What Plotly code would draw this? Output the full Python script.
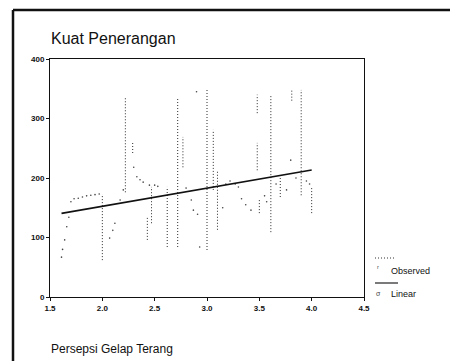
import plotly.graph_objects as go
import numpy as np

# Observed values: dense runs of observations at one x value (x, lowest y, highest y)
run_x  = [2.00, 2.22, 2.29, 2.43, 2.47, 2.62, 2.72, 2.77, 3.00, 3.06, 3.10, 3.48, 3.48, 3.50, 3.61, 3.70, 3.81, 3.90, 4.00]
run_lo = [62,   176,  242,  96,   124,  84,   84,   218,  79,   180,  113,  213,  309,  141,  109,  168,  330,  171,  141]
run_hi = [173,  336,  259,  134,  185,  185,  336,  269,  350,  281,  213,  259,  340,  163,  340,  202,  348,  348,  185]

# Observed values: isolated observations
pt_x = [1.61, 1.62, 1.64, 1.66, 1.68, 1.70, 1.73, 1.77, 1.81, 1.85, 1.89, 1.93, 1.97,
        2.07, 2.10, 2.12, 2.17, 2.20, 2.30, 2.33, 2.36, 2.39, 2.45, 2.50, 2.53,
        2.80, 2.85, 2.87, 2.91, 2.93, 2.90, 3.15, 3.18, 3.22, 3.27, 3.30, 3.33,
        3.37, 3.42, 3.55, 3.57, 3.66, 3.76, 3.80, 3.85, 3.95, 3.98]
pt_y = [67,   80,   96,   118,  134,  160,  165,  166,  168,  170,  171,  172,  173,
        99,   112,  124,  163,  180,  218,  202,  197,  193,  188,  188,  186,
        183,  163,  146,  139,  84,   345,  150,  190,  195,  190,  185,  165,
        155,  146,  170,  160,  190,  180,  230,  200,  195,  190]

# Linear fit coefficients
fit_b0 = 91.5
fit_b1 = 30.5

x_ticks = [1.5, 2.0, 2.5, 3.0, 3.5, 4.0, 4.5]
x_tick_labels = ["1.5", "2.0", "2.5", "3.0", "3.5", "4.0", "4.5"]
y_ticks = [0, 100, 200, 300, 400]
y_tick_labels = ["0", "100", "200", "300", "400"]

title_text = "Kuat Penerangan"
x_title = "Persepsi Gelap Terang"
legend_names = ["Observed", "Linear"]

all_x = pt_x + run_x
fit_x = np.array([min(all_x), max(all_x)])
fit_y = fit_b0 + fit_b1 * fit_x

seg_x, seg_y = [], []
for x, lo, hi in zip(run_x, run_lo, run_hi):
    seg_x += [x, x, None]
    seg_y += [lo, hi, None]

FONT = "Liberation Sans, Arial, sans-serif"
OFF = 8  # page body margin
W, H = 450, 353
L, R, T, B = 42, 94, 51, 64
pw, ph = W - L - R, H - T - B


def px(xr):
    return (xr - OFF - L) / pw


def py(yr):
    return (H - B - (yr - OFF)) / ph


fig = go.Figure()
fig.add_trace(go.Scatter(x=seg_x, y=seg_y, mode="lines",
                         line=dict(color="#2a2a2a", width=1, dash="1px,2px"),
                         name=legend_names[0], showlegend=False))
fig.add_trace(go.Scatter(x=pt_x, y=pt_y, mode="markers",
                         marker=dict(color="#444", size=1.6, line=dict(width=0)),
                         name=legend_names[0], showlegend=False))
fig.add_trace(go.Scatter(x=fit_x, y=fit_y, mode="lines",
                         line=dict(color="#111", width=1.6),
                         name=legend_names[1], showlegend=False))

shapes = [
    # outer frame (left and top edges visible)
    dict(type="line", xref="paper", yref="paper", x0=px(13), x1=px(13), y0=py(10), y1=py(361),
         line=dict(color="#111", width=2.5)),
    dict(type="line", xref="paper", yref="paper", x0=px(13), x1=px(458), y0=py(10), y1=py(10),
         line=dict(color="#111", width=2.5)),
    # legend samples
    dict(type="line", xref="paper", yref="paper", x0=px(375), x1=px(396), y0=py(258), y1=py(258),
         line=dict(color="#333", width=1, dash="1px,2px")),
    dict(type="line", xref="paper", yref="paper", x0=px(375), x1=px(398), y0=py(283), y1=py(283),
         line=dict(color="#222", width=1.2)),
]

annotations = [
    dict(text=title_text, xref="paper", yref="paper", x=px(49), y=py(38), xanchor="left", yanchor="middle",
         showarrow=False, font=dict(family=FONT, size=16, color="#111")),
    dict(text=x_title, xref="paper", yref="paper", x=px(49), y=py(349), xanchor="left", yanchor="middle",
         showarrow=False, font=dict(family=FONT, size=12, color="#111")),
    dict(text="ʳ", xref="paper", yref="paper", x=px(378), y=py(268), xanchor="center", yanchor="middle",
         showarrow=False, font=dict(family=FONT, size=8, color="#444")),
    dict(text=legend_names[0], xref="paper", yref="paper", x=px(389), y=py(271), xanchor="left", yanchor="middle",
         showarrow=False, font=dict(family=FONT, size=9, color="#111")),
    dict(text="σ", xref="paper", yref="paper", x=px(378), y=py(293), xanchor="center", yanchor="middle",
         showarrow=False, font=dict(family=FONT, size=7, color="#444")),
    dict(text=legend_names[1], xref="paper", yref="paper", x=px(389), y=py(294), xanchor="left", yanchor="middle",
         showarrow=False, font=dict(family=FONT, size=9, color="#111")),
]

fig.update_layout(
    width=W, height=H,
    margin=dict(l=L, r=R, t=T, b=B, pad=0),
    paper_bgcolor="white", plot_bgcolor="white",
    shapes=shapes, annotations=annotations,
    showlegend=False,
    xaxis=dict(range=[1.5, 4.5], tickvals=x_ticks, ticktext=x_tick_labels,
               showgrid=False, zeroline=False, showline=True, linecolor="#111", linewidth=1,
               mirror=True, ticks="outside", ticklen=3, tickcolor="#111",
               tickfont=dict(family=FONT, size=8, color="#111", weight="bold")),
    yaxis=dict(range=[0, 400], tickvals=y_ticks, ticktext=y_tick_labels,
               showgrid=False, zeroline=False, showline=True, linecolor="#111", linewidth=1,
               mirror=True, ticks="outside", ticklen=3, tickcolor="#111",
               tickfont=dict(family=FONT, size=8, color="#111", weight="bold")),
)

fig.write_html("out.html")
